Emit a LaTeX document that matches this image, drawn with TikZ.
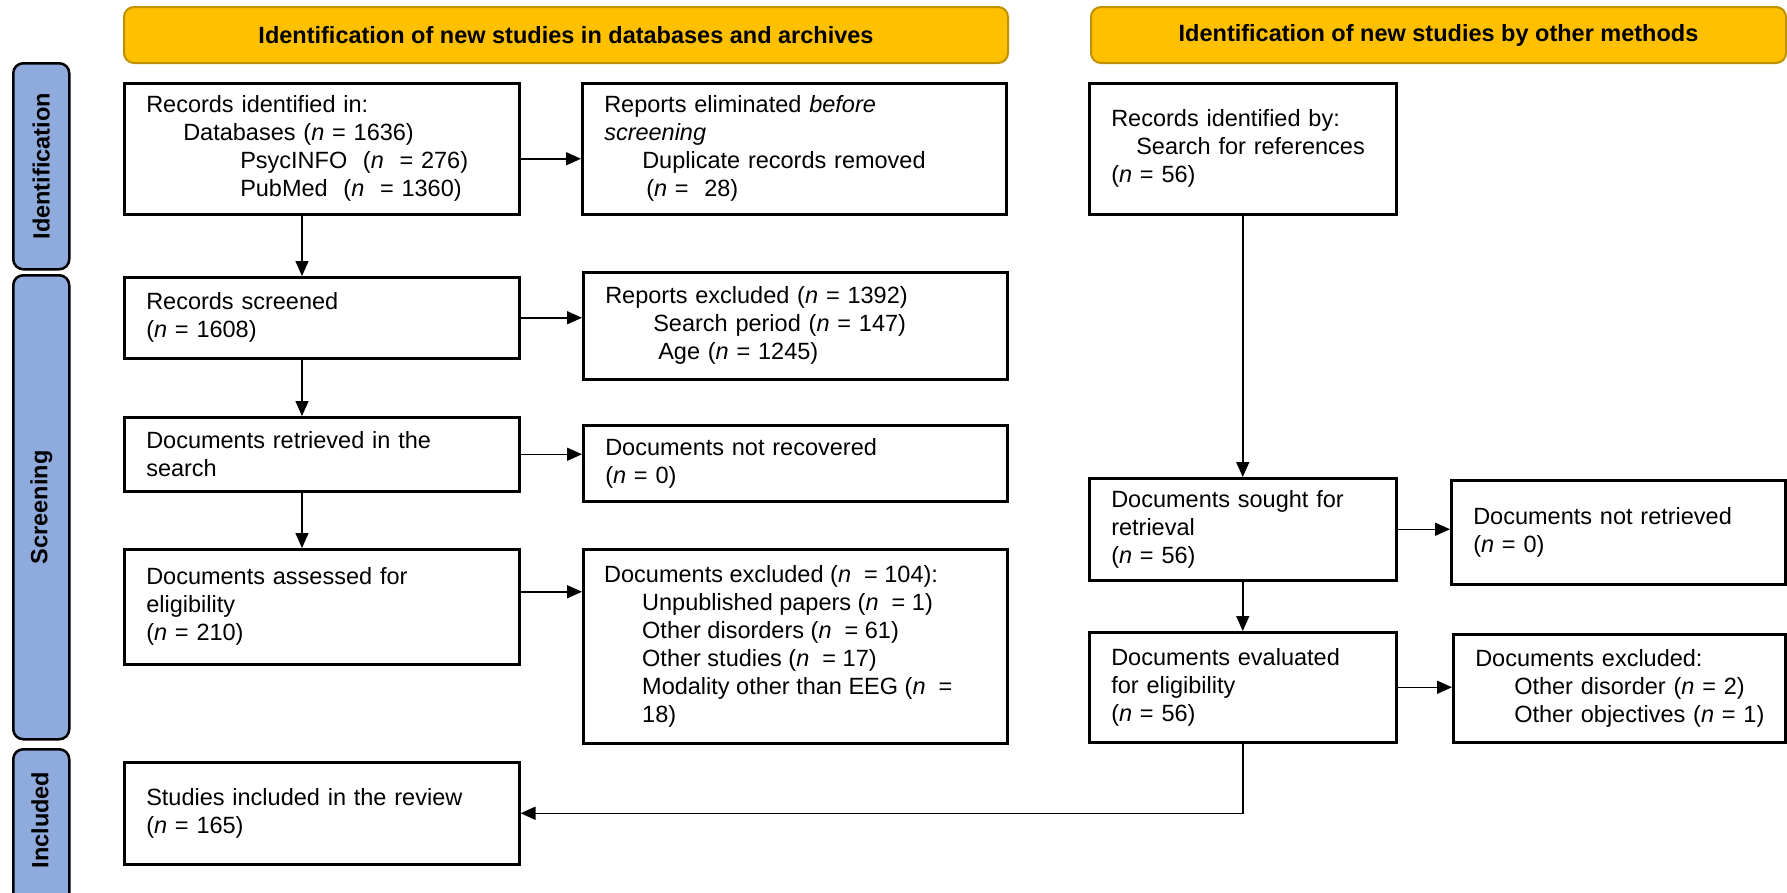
\documentclass[tikz,border=0pt]{standalone}
\usepackage{fontspec}
\setmainfont{Liberation Sans}
\usetikzlibrary{arrows.meta, positioning}
\definecolor{hdrfill}{HTML}{FFC000}
\definecolor{hdrline}{HTML}{BF9000}
\definecolor{phasefill}{HTML}{8FAADC}

\begin{document}
\begin{tikzpicture}[x=1pt, y=-1pt,
    every node/.style={font=\fontsize{23.5}{28}\selectfont, inner sep=0pt},
    box/.style={draw, line width=2.5pt, anchor=north west, align=left, inner xsep=22pt},
    hdr/.style={draw=hdrline, fill=hdrfill, line width=2pt, rounded corners=10pt,
        anchor=north west, font=\fontsize{23.5}{28}\selectfont\bfseries},
    phase/.style={draw, fill=phasefill, line width=2.5pt, rounded corners=10pt,
        anchor=north west},
    arr/.style={-{Triangle[length=15pt,width=13pt]}, line width=1.5pt}]
    \clip (0,0) rectangle (1787,892);

    % headers
    \node[hdr, minimum width=884pt, minimum height=56pt] (hdrL) at (123,6)
        {Identification of new studies in databases and archives};
    \node[hdr, minimum width=695pt, minimum height=56pt] (hdrR) at (1090,6)
        {Identification of new studies by other methods};

    % phase bars
    \node[phase, minimum width=56pt, minimum height=206pt] (ident) at (12,62) {};
    \node[phase, minimum width=56pt, minimum height=464pt] (screen) at (12,274) {};
    \node[phase, minimum width=56pt, minimum height=160pt] (incl) at (12,748) {};
    \node[rotate=90, font=\fontsize{23.5}{28}\selectfont\bfseries] at (ident.center) {Identification};
    \node[rotate=90, font=\fontsize{23.5}{28}\selectfont\bfseries] at (screen.center) {Screening};
    \node[rotate=90, font=\fontsize{23.5}{28}\selectfont\bfseries] at (40,820) {Included};

    % databases column
    \node[box, text width=351pt, minimum height=131pt] (recDb) at (123,82)
        {Records identified in:\\
         \hspace*{37pt}Databases (\textit{n} = 1636)\\
         \hspace*{94pt}PsycINFO\ \ (\textit{n}\ \ = 276)\\
         \hspace*{94pt}PubMed\ \ (\textit{n}\ \ = 1360)};
    \node[box, text width=380pt, minimum height=131pt] (elim) at (581,82)
        {Reports eliminated \textit{before}\\
         \textit{screening}\\
         \hspace*{38pt}Duplicate records removed\\
         \hspace*{42pt}(\textit{n} =\ \ 28)};
    \node[box, text width=351pt, minimum height=81pt] (screened) at (123,276)
        {Records screened\\(\textit{n} = 1608)};
    \node[box, text width=380pt, minimum height=107pt] (exclRep) at (582,271)
        {Reports excluded (\textit{n} = 1392)\\
         \hspace*{48pt}Search period (\textit{n} = 147)\\
         \hspace*{53pt}Age (\textit{n} = 1245)};
    \node[box, text width=351pt, minimum height=74pt] (retr) at (123,416)
        {Documents retrieved in the\\search};
    \node[box, text width=380pt, minimum height=76pt] (notRec) at (582,424)
        {Documents not recovered\\(\textit{n} = 0)};
    \node[box, text width=351pt, minimum height=115pt] (assess) at (123,548)
        {Documents assessed for\\eligibility\\(\textit{n} = 210)};
    \node[box, minimum width=424pt, minimum height=194pt] (exclDoc) at (582,548) {};
    \begin{scope}
        \clip (exclDoc.north west) rectangle (exclDoc.south east);
        \node[anchor=north west, align=left] at ([xshift=22pt,yshift=-17pt]exclDoc.north west)
            {Documents excluded (\textit{n}\ \ = 104):\\
             \hspace*{38pt}Unpublished papers (\textit{n}\ \ = 1)\\
             \hspace*{38pt}Other disorders (\textit{n}\ \ = 61)\\
             \hspace*{38pt}Other studies (\textit{n}\ \ = 17)\\
             \hspace*{38pt}Modality other than EEG (\textit{n}\ \ =\\
             \hspace*{38pt}18)};
    \end{scope}
    \node[box, text width=351pt, minimum height=102pt] (incStud) at (123,761)
        {Studies included in the review\\(\textit{n} = 165)};

    % other methods column
    \node[box, text width=263pt, minimum height=131pt] (recRef) at (1088,82)
        {Records identified by:\\
         \hspace*{25pt}Search for references\\
         (\textit{n} = 56)};
    \node[box, text width=263pt, minimum height=102pt] (sought) at (1088,477)
        {Documents sought for\\retrieval\\(\textit{n} = 56)};
    \node[box, text width=290pt, minimum height=104pt] (notRet) at (1450,479)
        {Documents not retrieved\\(\textit{n} = 0)};
    \node[box, text width=263pt, minimum height=110pt] (evalDoc) at (1088,631)
        {Documents evaluated\\for eligibility\\(\textit{n} = 56)};
    \node[box, inner xsep=17pt, text width=298pt, minimum height=108pt] (exclOth) at (1452,633)
        {\hspace*{5pt}Documents excluded:\\
         \mbox{\hspace*{44pt}Other disorder (\textit{n}\ = 2)}\\
         \mbox{\hspace*{44pt}Other objectives (\textit{n}\ = 1)}};

    % connectors
    \coordinate (lane) at (302,0);
    \draw[arr] ([yshift=-10pt]recDb.east) -- ([yshift=-10pt]recDb.east -| elim.west);
    \draw[arr] (recDb.south -| lane) -- (screened.north -| lane);
    \draw[arr] (screened.east) -- (screened.east -| exclRep.west);
    \draw[arr] (screened.south -| lane) -- (retr.north -| lane);
    \draw[arr] (retr.east) -- (retr.east -| notRec.west);
    \draw[arr] (retr.south -| lane) -- (assess.north -| lane);
    \draw[arr] ([yshift=15pt]assess.east) -- ([yshift=15pt]assess.east -| exclDoc.west);
    \draw[arr] (recRef.south) -- (recRef.south |- sought.north);
    \draw[arr] (sought.east) -- (sought.east -| notRet.west);
    \draw[arr] (sought.south) -- (sought.south |- evalDoc.north);
    \draw[arr] (evalDoc.east) -- (evalDoc.east -| exclOth.west);
    \draw[arr] (evalDoc.south) -- (evalDoc.south |- incStud.east) -- (incStud.east);
\end{tikzpicture}
\end{document}
